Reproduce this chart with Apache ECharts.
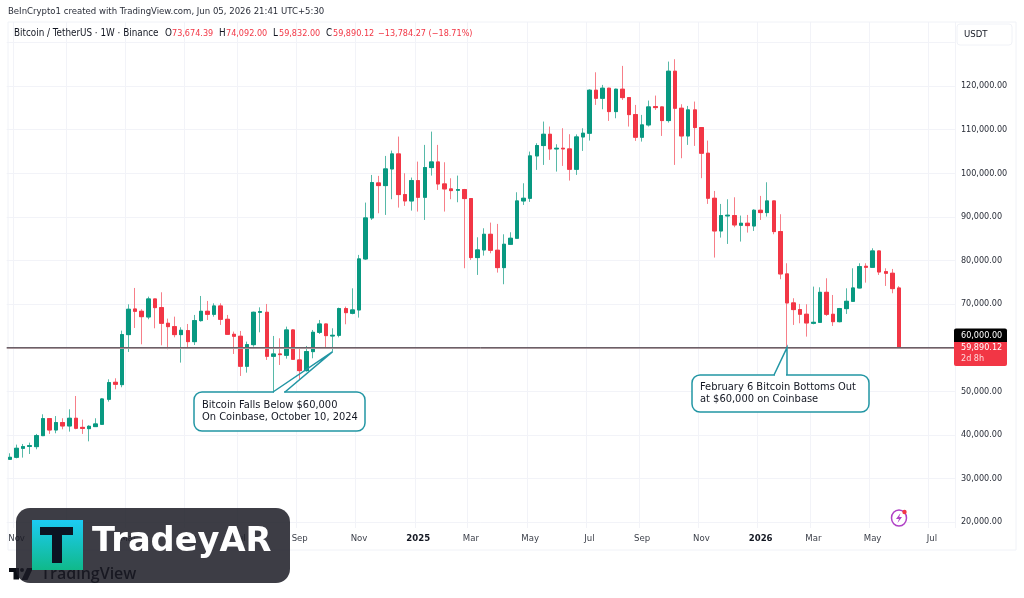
<!DOCTYPE html>
<html>
<head>
<meta charset="utf-8">
<style>html,body{margin:0;padding:0;background:#fff}#chart{width:1024px;height:598px}</style>
<script src="https://cdn.jsdelivr.net/npm/echarts@6/dist/echarts.min.js"></script>
</head>
<body>
<div id="chart"></div>
<script>
// Weekly BTC/USDT candles, one entry per week starting 23 Oct 2023
const opens = [34384,34843,36900,37350,37290,39810,43710,41110,42800,42030,
43790,41700,41420,41880,42410,48150,52040,51510,62980,68860,
68330,67030,71160,69170,65580,64810,62980,63900,61370,66190,
68330,67640,69550,66490,63050,62600,55720,60680,68100,68100,
58010,58540,58240,64050,57170,54720,59080,63510,65420,62670,
62820,68940,67870,68640,80340,89740,97770,97160,100980,104420,
95100,93640,98300,94480,101290,102580,97540,96400,96090,96240,
94180,80650,82400,85990,82330,78350,83700,85080,93640,94250,
103970,106340,108930,105570,105720,105570,100900,108320,109170,119030,
117190,119490,114130,119260,117340,113440,108250,111080,115280,115200,
112070,123390,114900,108550,114520,110470,104580,94250,86760,90210,
90280,88060,88520,87900,91500,90970,93640,86610,76900,70250,
68720,67650,65580,65800,72680,67640,65950,68940,70620,73680,
78650,78420,82170,77420,77050,73674.39];
const closes = [34840,36908,37290,37500,39810,43710,41110,42800,42030,43790,
41500,41470,41950,42490,48220,51970,51590,62980,68790,68330,
67100,71160,69170,65580,64810,62980,63970,61370,66190,68330,
67640,69550,66490,63050,62600,55720,60680,68100,68250,58010,
58540,58390,64050,57320,54720,59080,63510,65420,62750,62820,
68940,68020,68640,80340,89740,97850,97160,100980,104420,95100,
93640,98300,94480,101290,102580,97540,96400,96010,96240,94180,
80650,82400,85990,82330,78350,83700,85080,93640,94250,103970,
106340,108930,105570,105720,105570,100900,108320,109170,119030,117190,
119490,114130,119260,117340,113440,108250,111080,115200,115050,112070,
123390,114900,108550,114520,110470,104580,94260,86760,90280,90360,
88140,88520,87980,91500,90970,93640,86610,76900,70250,68720,
67650,65660,65800,72680,67640,65950,68940,70620,73680,78570,
78420,82170,77350,77050,73530,59890.12];
const lows = [34230,34600,34770,35600,36680,39700,40200,40350,41260,40730,
41270,40200,38500,41800,42260,47610,50440,50900,59000,64500,
60760,66500,64430,60530,59610,62360,56560,59840,60600,65960,
66340,67100,65200,62900,58540,53500,54260,60220,63510,57170,
49700,56020,57470,57320,52580,54500,57550,63130,59840,59080,
62360,65350,67640,66880,80110,89280,90810,90430,94030,92110,
92500,91420,91200,89280,99450,96165,91200,94030,93340,78200,
80110,76670,81100,81640,77200,74530,83550,85080,92720,93420,
100760,101900,103050,100370,101670,98310,99610,105110,107480,115660,
114670,111990,112600,116810,110700,107400,107250,110700,114520,108550,
111610,101900,103430,106490,106260,98850,92960,80650,85230,83780,
87600,84320,86380,86760,89280,90050,86000,75680,60000,65200,
65580,62520,65345,65730,67260,64960,65800,67720,70540,73600,
74900,78340,76660,74140,72460,59832];
const highs = [35760,37750,37900,38200,40200,44700,43800,44300,43800,45850,
48900,43480,42200,43790,48400,52730,52960,63900,69930,73680,
68790,71690,71200,72690,66650,67100,64660,65420,67490,71840,
70700,70160,70160,67490,63670,63820,61370,68250,69240,70010,
62670,62140,64810,64200,59840,60380,64050,66340,65500,64430,
69170,69400,73600,81260,93260,99600,99380,103960,105190,108400,
99990,99000,102660,106490,109540,106490,102510,98840,99450,96400,
94200,85300,87370,88670,88370,85990,86450,95630,97690,104960,
106870,111840,110700,106640,110310,108940,108900,110310,119260,123150,
120250,119600,119400,124610,117400,115660,113370,116660,117800,115300,
125600,126140,115820,115430,116430,110550,107480,95930,92950,94020,
94480,90280,90430,91730,94790,97920,93700,90590,79350,71320,
70020,69940,73990,73830,75900,72070,69100,73600,78190,79340,
79340,82780,82250,78190,78040,74092];

const weekStart = Date.UTC(2023, 9, 23);
const weekCount = 144;
const weekLabels = Array.from({length: weekCount}, (_, i) =>
  new Date(weekStart + i * 7 * 864e5).toISOString().slice(0, 10));

// Time axis captions, keyed by the weekly bar that opens each period
const timeTicks = {1:'Nov',9:'2024',18:'Mar',27:'May',35:'Jul',44:'Sep',53:'Nov',62:'2025',70:'Mar',
  79:'May',88:'Jul',96:'Sep',105:'Nov',114:'2026',122:'Mar',131:'May',140:'Jul'};
const priceTicks = [20000,30000,40000,50000,60000,70000,80000,90000,100000,110000,120000];
const priceGrid = [20000,30000,40000,50000,60000,70000,80000,90000,100000,110000,120000,130000];

const supportLevel = 60000;
const lastClose = 59890.12;

const UP = '#089981', DOWN = '#f23645';
const FONT = '"DejaVu Sans Condensed","DejaVu Sans",sans-serif';
const INK = '#131722', TEAL = '#2296a4', RULE = '#f2f3f8';

const candles = opens.map((o, i) => [o, closes[i], lows[i], highs[i]]);
const bodies = opens.map((o, i) => [o, closes[i], Math.min(o, closes[i]), Math.max(o, closes[i])]);

const chart = echarts.init(document.getElementById('chart'), null, {renderer: 'canvas'});

function label(x, y, text, fill, size, extra) {
  return {type: 'text', z: 120, x, y, style: Object.assign({text, fill, font: (size || 9) + 'px ' + FONT,
    textVerticalAlign: 'middle'}, extra || {})};
}

const headerRuns = [
  [14, 'Bitcoin / TetherUS · 1W · Binance', INK, 9.8], [165, 'O', INK, 9.8], [172, '73,674.39', DOWN, 9],
  [219, 'H', INK, 9.8], [226, '74,092.00', DOWN, 9], [273, 'L', INK, 9.8], [279, '59,832.00', DOWN, 9],
  [326, 'C', INK, 9.8], [333, '59,890.12', DOWN, 9], [378, '−13,784.27 (−18.71%)', DOWN, 9]
];

const staticGraphics = [
  {type: 'rect', z: 1, shape: {x: 8, y: 22, width: 1008, height: 528}, style: {fill: 'none', stroke: '#f0f2f7', lineWidth: 1}},
  label(8, 12, 'BeInCrypto1 created with TradingView.com, Jun 05, 2026 21:41 UTC+5:30', '#2a2e39', 9.5),
  ...headerRuns.map(r => label(r[0], 33.5, r[1], r[2], r[3])),
  {type: 'rect', z: 1, shape: {x: 957, y: 24, width: 55, height: 21, r: 3}, style: {fill: '#fff', stroke: '#f0f2f7', lineWidth: 1}},
  label(964, 34.5, 'USDT', INK, 9.5),

  // Price tags on the right scale
  {type: 'rect', z: 110, shape: {x: 954, y: 328.5, width: 53, height: 13.5, r: [2,2,0,0]}, style: {fill: '#000'}},
  {type: 'rect', z: 110, shape: {x: 954, y: 342, width: 53, height: 24, r: [0,0,2,2]}, style: {fill: DOWN}},
  label(961, 335.5, '60,000.00', '#fff', 9),
  label(961, 348, '59,890.12', '#fff', 9),
  label(961, 359, '2d 8h', '#ffd9dc', 9),

  // Alert badge on the time scale
  {type: 'ellipse', z: 95, shape: {cx: 899, cy: 518, rx: 7.5, ry: 8}, style: {fill: '#fff', stroke: '#b041c6', lineWidth: 1.5}},
  {type: 'polygon', z: 96, shape: {points: [[900.5,513],[896,519],[899,519],[897.5,523],[902,517],[899.2,517]]}, style: {fill: '#b041c6'}},
  {type: 'circle', z: 97, shape: {cx: 904.5, cy: 512, r: 2.2}, style: {fill: DOWN}},

  // TradingView mark, sitting beneath the translucent panel
  {type: 'rect', z: 100, shape: {x: 9, y: 568, width: 10, height: 4}, style: {fill: '#0a0d14'}},
  {type: 'rect', z: 100, shape: {x: 13.5, y: 568, width: 5.5, height: 11.5}, style: {fill: '#0a0d14'}},
  {type: 'circle', z: 100, shape: {cx: 22, cy: 570, r: 2}, style: {fill: '#0a0d14'}},
  {type: 'polygon', z: 100, shape: {points: [[27,568],[33,568],[27.5,580],[21.5,580]]}, style: {fill: '#0a0d14'}},
  {type: 'text', z: 100, x: 41, y: 574.5, style: {text: 'TradingView', fill: '#0a0d14', font: '600 16px "Open Sans",sans-serif', textVerticalAlign: 'middle'}},

  // Watermark panel
  {type: 'rect', z: 101, shape: {x: 16, y: 508, width: 274, height: 75, r: 14}, style: {fill: 'rgba(27,27,37,0.85)'}},
  {type: 'rect', z: 102, shape: {x: 32, y: 520, width: 51, height: 50},
    style: {fill: new echarts.graphic.LinearGradient(0, 0, 0, 1, [{offset: 0, color: '#1ccbf4'}, {offset: 1, color: '#10b98a'}])}},
  {type: 'rect', z: 103, shape: {x: 40, y: 527, width: 33, height: 8}, style: {fill: '#0c1322'}},
  {type: 'rect', z: 103, shape: {x: 52, y: 527, width: 10, height: 36}, style: {fill: '#0c1322'}},
  {type: 'text', z: 103, x: 92, y: 542, style: {text: 'TradeyAR', fill: '#fff', font: 'bold 33.7px "DejaVu Sans",sans-serif', textVerticalAlign: 'middle'}}
];

chart.setOption({
  animation: false,
  backgroundColor: '#fff',
  grid: {left: 6.7, width: 948.2, top: 22, height: 506},
  xAxis: {
    type: 'category',
    data: weekLabels,
    boundaryGap: true,
    axisLine: {show: false},
    axisTick: {show: false, alignWithLabel: true, interval: i => i in timeTicks},
    splitLine: {show: true, interval: i => i in timeTicks, lineStyle: {color: RULE, width: 1}},
    axisLabel: {
      interval: i => i in timeTicks,
      margin: 6,
      hideOverlap: false,
      formatter: (v, i) => /^20/.test(timeTicks[i]) ? '{year|' + timeTicks[i] + '}' : timeTicks[i],
      color: '#3b3f49', fontFamily: FONT, fontSize: 9.5,
      rich: {year: {fontWeight: 'bold', color: INK, fontFamily: FONT, fontSize: 9.5}}
    }
  },
  yAxis: {
    type: 'value',
    position: 'right',
    min: 18624,
    max: 134679,
    axisLine: {show: false},
    axisTick: {show: false, customValues: priceGrid},
    splitLine: {show: true, lineStyle: {color: RULE, width: 1}},
    axisLabel: {
      customValues: priceTicks, margin: 6, color: '#2a2e39', fontFamily: FONT, fontSize: 9,
      formatter: v => v.toLocaleString('en-US', {minimumFractionDigits: 2, maximumFractionDigits: 2})
    }
  },
  series: [
    {
      name: 'Range', type: 'candlestick', data: candles, barWidth: 4, clip: true, z: 3,
      itemStyle: {color: '#57b9a8', color0: '#f77f89', borderColor: '#57b9a8', borderColor0: '#f77f89', borderWidth: 1},
      markLine: {
        silent: true, symbol: 'none', animation: false, label: {show: false}, z: 6,
        data: [
          {yAxis: lastClose, lineStyle: {color: '#a8969a', width: 1, type: 'solid'}},
          {yAxis: supportLevel, lineStyle: {color: '#6a6068', width: 1, type: 'solid'}}
        ]
      }
    },
    {
      name: 'Body', type: 'candlestick', data: bodies, barWidth: 4, z: 4,
      itemStyle: {color: UP, color0: DOWN, borderColor: UP, borderColor0: DOWN, borderWidth: 1}
    }
  ],
  graphic: staticGraphics
});

// Callouts hang from their price points; the boxes keep a fixed place on the page
function callout(tipIndex, tipPrice, box, baseL, baseR, lines) {
  const tip = chart.convertToPixel({xAxisIndex: 0, yAxisIndex: 0}, [tipIndex, tipPrice]);
  const edge = box.y;
  return [
    {type: 'rect', z: 60, shape: {x: box.x, y: box.y, width: box.w, height: box.h, r: 8}, style: {fill: '#fff', stroke: TEAL, lineWidth: 1.5}},
    {type: 'line', z: 61, shape: {x1: baseL + 1, y1: edge, x2: baseR - 1, y2: edge}, style: {stroke: '#fff', lineWidth: 2.5}},
    {type: 'polyline', z: 62, shape: {points: [[baseL, edge], tip, [baseR, edge]]}, style: {fill: 'none', stroke: TEAL, lineWidth: 1.5}},
    ...lines.map((t, k) => label(box.tx, box.ty + k * 12, t, INK, 11, {}))
  ];
}

const falloutNote = callout(49, 59070, {x: 194, y: 392, w: 171, h: 39, tx: 202, ty: 405}, 273, 285,
  ['Bitcoin Falls Below $60,000', 'On Coinbase, October 10, 2024']);
const bottomNote = callout(118, 60000, {x: 692, y: 375, w: 177, h: 37, tx: 700, ty: 387}, 774, 787,
  ['February 6 Bitcoin Bottoms Out', 'at $60,000 on Coinbase']);

chart.setOption({graphic: staticGraphics.concat(falloutNote, bottomNote)}, {replaceMerge: ['graphic']});
</script>
</body>
</html>
